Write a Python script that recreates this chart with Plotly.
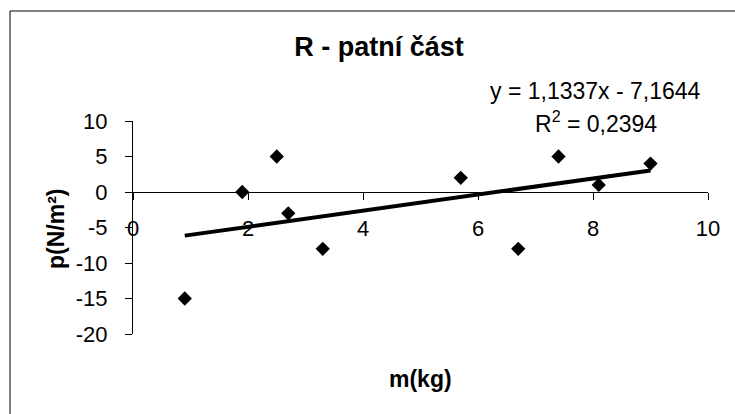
import plotly.graph_objects as go

# Data
m_kg = [0.9, 1.9, 2.5, 2.7, 3.3, 5.7, 6.7, 7.4, 8.1, 9.0]
p_nm2 = [-15, 0, 5, -3, -8, 2, -8, 5, 1, 4]

# Linear trendline coefficients shown on the chart
SLOPE = 1.1337
INTERCEPT = -7.1644
R2 = 0.2394

x_ticks = [0, 2, 4, 6, 8, 10]
y_ticks = [-20, -15, -10, -5, 0, 5, 10]

FONT = "Liberation Sans, Arial, sans-serif"

trend_x = [min(m_kg), max(m_kg)]
trend_y = [SLOPE * v + INTERCEPT for v in trend_x]

fig = go.Figure()
fig.add_trace(go.Scatter(
    x=trend_x, y=trend_y, mode="lines",
    line=dict(color="black", width=4), hoverinfo="skip", showlegend=False,
))
fig.add_trace(go.Scatter(
    x=m_kg, y=p_nm2, mode="markers",
    marker=dict(symbol="diamond", size=11, color="black"),
    showlegend=False,
))

L, R, T, B = 133, 27, 121, 80
W, H = 735, 414
pw, ph = W - L - R, H - T - B

def px(xp):
    return (xp - L) / pw

def py(yp):
    return (H - B - yp) / ph

fig.update_layout(
    width=W, height=H,
    margin=dict(l=L, r=R, t=T, b=B, pad=0),
    paper_bgcolor="white", plot_bgcolor="white",
    font=dict(family=FONT, size=22, color="black"),
    title=dict(text="<b>R - patní část</b>", xref="container", yref="container",
               x=379 / W, y=1 - 47 / H, xanchor="center", yanchor="middle",
               font=dict(size=27, family=FONT, color="black")),
    xaxis=dict(range=[0, 10], tickvals=x_ticks, ticktext=[str(v) for v in x_ticks],
               showgrid=False, zeroline=False, showline=True, linecolor="black",
               linewidth=1, ticks="outside", ticklen=7, tickcolor="black", tickwidth=1,
               anchor="free", position=2 / 3, ticklabelstandoff=10,
               tickfont=dict(size=22)),
    yaxis=dict(range=[-20, 10], tickvals=y_ticks, ticktext=[str(v) for v in y_ticks],
               showgrid=False, zeroline=False, showline=True, linecolor="black",
               linewidth=1, ticks="outside", ticklen=7, tickcolor="black", tickwidth=1,
               ticklabelstandoff=13, tickfont=dict(size=22)),
    showlegend=False,
)

fig.add_shape(type="rect", xref="paper", yref="paper",
              x0=px(10), x1=px(745), y0=py(425), y1=py(11),
              line=dict(color="black", width=1), fillcolor="rgba(0,0,0,0)", layer="above")

fig.add_annotation(text=f"y = {SLOPE:.4f}x - {abs(INTERCEPT):.4f}".replace(".", ","),
                   xref="paper", yref="paper", x=px(595), y=py(91),
                   showarrow=False, xanchor="center", yanchor="middle",
                   font=dict(size=23, family=FONT, color="black"))
fig.add_annotation(text=f"R<sup>2</sup> = {R2:.4f}".replace(".", ","),
                   xref="paper", yref="paper", x=px(596), y=py(122),
                   showarrow=False, xanchor="center", yanchor="middle",
                   font=dict(size=23, family=FONT, color="black"))
fig.add_annotation(text="<b>m(kg)</b>", xref="paper", yref="paper",
                   x=px(420), y=py(379), showarrow=False,
                   xanchor="center", yanchor="middle",
                   font=dict(size=23, family=FONT, color="black"))
fig.add_annotation(text="<b>p(N/m²)</b>", xref="paper", yref="paper",
                   x=px(56), y=py(229), showarrow=False, textangle=-90,
                   xanchor="center", yanchor="middle",
                   font=dict(size=23, family=FONT, color="black"))

fig.write_html("out.html")
